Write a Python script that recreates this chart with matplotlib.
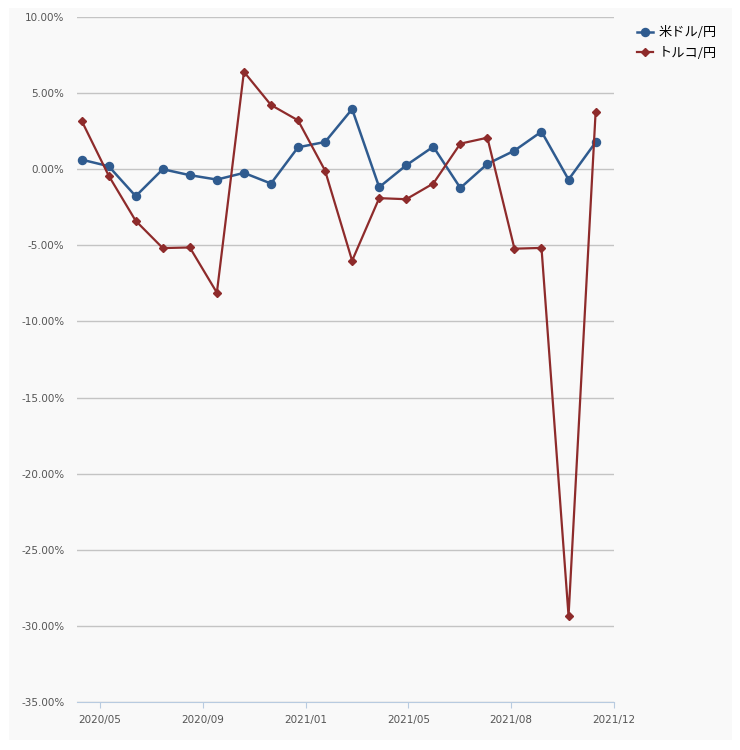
import matplotlib.pyplot as plt
from matplotlib.patches import Rectangle
from matplotlib.ticker import FuncFormatter
import numpy as np

# Monatliche Veränderung (%)
usd_jpy = [0.63, 0.20, -1.77, 0.00, -0.39, -0.68, -0.24, -0.94, 1.44, 1.79,
           3.95, -1.18, 0.26, 1.48, -1.23, 0.35, 1.22, 2.47, -0.68, 1.77]
try_jpy = [3.19, -0.42, -3.39, -5.18, -5.14, -8.11, 6.40, 4.22, 3.21, -0.09,
           -6.01, -1.90, -1.97, -0.94, 1.68, 2.07, -5.22, -5.17, -29.35, 3.74]
series_names = ["米ドル/円", "トルコ/円"]
x_tick_labels = ["2020/05", "2020/09", "2021/01", "2021/05", "2021/08", "2021/12"]
y_ticks = [10, 5, 0, -5, -10, -15, -20, -25, -30, -35]

x_idx = np.arange(len(usd_jpy))
x_tick_pos = 0.68 + 3.8 * np.arange(len(x_tick_labels))

plt.rcParams["font.family"] = ["DejaVu Sans", "Noto Sans CJK JP"]

bg = "#f9f9f9"
fig = plt.figure(figsize=(7.4, 7.5), dpi=100)
fig.patches.append(Rectangle((9 / 740, 1 - 740 / 750), 723 / 740, 732 / 750,
                             transform=fig.transFigure, facecolor=bg,
                             edgecolor="none", zorder=-5))
ax = fig.add_axes([77 / 740, 1 - 702 / 750, 537 / 740, 685 / 750])
ax.set_facecolor(bg)

ax.plot(x_idx, usd_jpy, color="#2f5b8f", lw=1.8, marker="o", ms=5.8,
        label=series_names[0], zorder=3)
ax.plot(x_idx, try_jpy, color="#8e2b2b", lw=1.6, marker="D", ms=3.8,
        label=series_names[1], zorder=3)

ax.set_xlim(-0.17, 19.66)
ax.set_ylim(-35, 10)
ax.set_yticks(y_ticks)
ax.yaxis.set_major_formatter(FuncFormatter(lambda v, p: f"{v:.2f}%"))
ax.set_xticks(x_tick_pos)
ax.set_xticklabels(x_tick_labels)

ax.grid(axis="y", color="#c4c4c4", lw=1)
ax.set_axisbelow(True)
for s in ["top", "right", "left"]:
    ax.spines[s].set_visible(False)
ax.spines["bottom"].set_color("#b8cbe0")
ax.tick_params(axis="y", length=0, pad=9, labelsize=7.5, labelcolor="#555555")
ax.tick_params(axis="x", length=4, color="#b8cbe0", pad=5, labelsize=7.5,
               labelcolor="#555555")

ax.legend(loc="upper left", bbox_to_anchor=(632 / 740, 1 - 21 / 750),
          bbox_transform=fig.transFigure, frameon=False,
          handlelength=1.2, handletextpad=0.4, labelspacing=0.55,
          borderaxespad=0, prop={"family": ["Noto Sans CJK JP"], "size": 9.5})

fig.savefig("out.png", dpi=100)
